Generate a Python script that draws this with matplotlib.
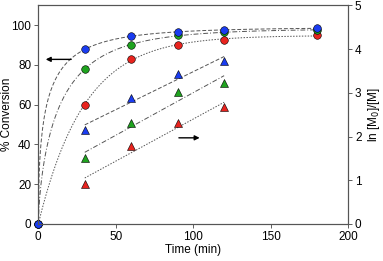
import numpy as np
import matplotlib
matplotlib.use('Agg')
import matplotlib.pyplot as plt

plt.rcParams['font.family'] = ['Liberation Sans', 'DejaVu Sans']

# Conversion data (left axis)
t_conv = [0, 30, 60, 90, 120, 180]
conv_blue = [0, 88, 94.5, 96.5, 97.5, 98.5]
conv_green = [0, 78, 90, 95, 96.5, 97.5]
conv_red = [0, 60, 83, 90, 92.5, 95]

# ln([M0]/[M]) data (right axis)
t_ln = [30, 60, 90, 120]
ln_blue = [2.16, 2.89, 3.42, 3.72]
ln_green = [1.52, 2.30, 3.01, 3.23]
ln_red = [0.92, 1.78, 2.30, 2.67]

colors = ['#1a3cf0', '#1fa31f', '#e8231e']
styles = [(0, (4, 2)), (0, (5, 2, 1, 2)), (0, (1.5, 1.5))]


def stretched_fit(t, c):
    # conv = cmax * (1 - exp(-k t^n)), grid search on k and n
    t = np.array(t, float)
    c = np.array(c, float)
    best = None
    for n in np.linspace(0.5, 1.0, 26):
        for k in np.linspace(0.005, 0.4, 400):
            g = 1 - np.exp(-k * t ** n)
            cmax = np.dot(g, c) / np.dot(g, g)
            err = np.sum((cmax * g - c) ** 2)
            if best is None or err < best[0]:
                best = (err, k, n, cmax)
    return best[1:]


fig = plt.figure(figsize=(3.83, 2.61), dpi=100)
ax = fig.add_axes([38.3 / 383, 1 - 224 / 261, (348 - 38.3) / 383, (224 - 5.3) / 261])
ax2 = ax.twinx()

tt = np.linspace(0, 180, 400)
tl = np.linspace(30, 120, 50)
# draw red first so blue sits on top
for conv, lnv, col, ls in list(zip([conv_blue, conv_green, conv_red],
                                   [ln_blue, ln_green, ln_red], colors, styles))[::-1]:
    k, n, cmax = stretched_fit(t_conv, conv)
    ax.plot(tt, cmax * (1 - np.exp(-k * tt ** n)), color='#555555', lw=0.7, linestyle=ls)
    ax.plot(t_conv, conv, 'o', color=col, mec='black', mew=0.4, ms=5.5, clip_on=False, zorder=5)
    p = np.polyfit(t_ln, lnv, 1)
    ax2.plot(tl, np.polyval(p, tl), color='#555555', lw=0.7, linestyle=ls)
    ax2.plot(t_ln, lnv, '^', color=col, mec='black', mew=0.4, ms=5.5, zorder=5)

ax.set_xlim(0, 200)
ax.set_ylim(0, 110)
ax.set_yticks([0, 20, 40, 60, 80, 100])
ax.set_xticks([0, 50, 100, 150, 200])
ax2.set_ylim(0, 5.0)
ax2.set_yticks([0, 1, 2, 3, 4, 5])

ax.set_xlabel('Time (min)', fontsize=8.5, labelpad=1)
ax.set_ylabel('% Conversion', fontsize=8.5)
ax.yaxis.set_label_coords(-0.082, 0.5)
ax2.set_ylabel('ln [M$_0$]/[M]', fontsize=8.5, labelpad=3)

for a in (ax, ax2):
    a.tick_params(labelsize=8.5, length=3, width=0.6, direction='out', pad=2, color='#444444')
    for s in a.spines.values():
        s.set_color('#555555')
        s.set_linewidth(0.8)

ax.annotate('', xy=(3, 82.8), xytext=(23, 82.8),
            arrowprops=dict(arrowstyle='-|>', color='black', lw=1.0, mutation_scale=7))
ax2.annotate('', xy=(106, 1.97), xytext=(89, 1.97),
             arrowprops=dict(arrowstyle='-|>', color='black', lw=1.0, mutation_scale=7))

fig.savefig('out.png', dpi=100)
